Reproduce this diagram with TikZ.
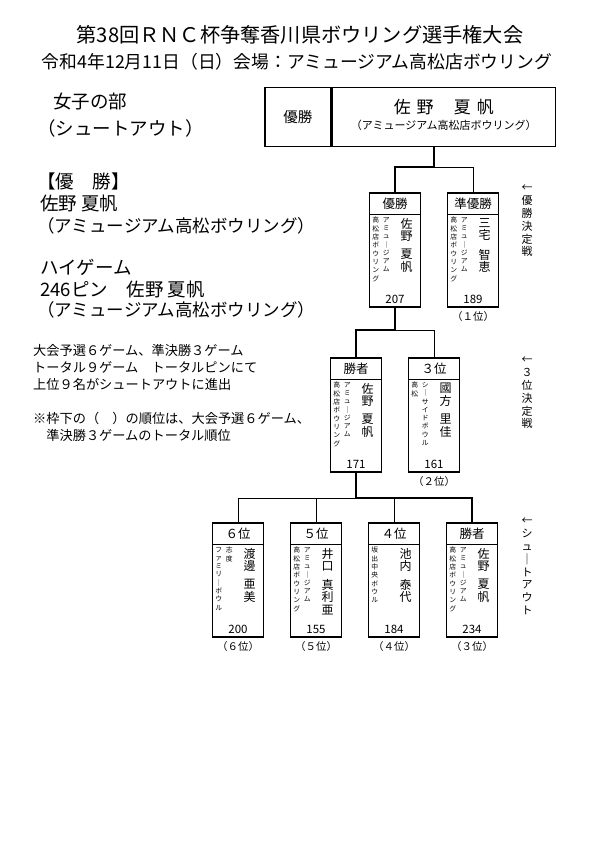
\documentclass[tikz,border=0pt]{standalone}
\usepackage{fontspec}
\setmainfont{Noto Sans CJK JP}
\usetikzlibrary{calc}
\tikzset{
 pbody/.style={draw, line width=1.7pt, minimum width=51pt, minimum height=114pt, inner sep=0pt},
 phead/.style={draw, line width=1.3pt, minimum width=51pt, minimum height=22pt, inner sep=0pt, font=\fontsize{12.5}{13}\selectfont},
 aff/.style={font=\fontsize{6.8}{8.3}\selectfont, align=center, inner sep=0pt, anchor=north},
 pname/.style={font=\fontsize{12}{12.5}\selectfont, align=center, inner sep=0pt, anchor=north},
 score/.style={font=\fontsize{11.5}{12}\selectfont, inner sep=0pt},
 rank/.style={font=\fontsize{10.5}{11}\selectfont, inner sep=0pt},
 cbox/.style={draw, line width=1.5pt, minimum height=59pt, inner sep=0pt, anchor=north west},
 thinln/.style={line width=0.7pt},
 thickln/.style={line width=2.3pt},
 big/.style={font=\fontsize{18.5}{20}\selectfont, inner sep=0pt, anchor=west},
 mid/.style={font=\fontsize{17.5}{20}\selectfont, inner sep=0pt, anchor=west},
 note/.style={font=\fontsize{13.2}{17}\selectfont, inner sep=0pt, anchor=north west, align=left},
 vlabel/.style={font=\fontsize{11}{12.8}\selectfont, inner sep=0pt, anchor=north, align=center},
}
\newcommand\playerbox[9]{%
 \node[pbody, anchor=north] (#1) at (#2) {};
 \node[phead, anchor=north] (#1h) at (#1.north) {#3};
 \node[aff] (#1a) at ($(#1.north west)+(7,25)$) {#4};
 \node[aff] (#1b) at ($(#1.north west)+(17.5,25)$) {#5};
 \node[pname] (#1n) at ($(#1.north west)+(38,26)$) {#6};
 \node[pname] (#1m) at ($(#1.north west)+(38,57)$) {#7};
 \node[score] (#1s) at ($(#1.south)+(0,-8)$) {#8};
 \node[rank] (#1r) at ($(#1.south)+(0,9)$) {#9};
}
\begin{document}
\begin{tikzpicture}[x=1pt,y={(0pt,-1pt)}]
\fill[white] (0,0) rectangle (595,842);
\useasboundingbox (0,0) rectangle (595,842);
% titles
\node[font=\fontsize{20.2}{22}\selectfont, inner sep=0pt] (title) at (300,35) {第38回ＲＮＣ杯争奪香川県ボウリング選手権大会};
\node[font=\fontsize{17.8}{20}\selectfont, inner sep=0pt] (subtitle) at (297,62) {令和4年12月11日（日）会場：アミュージアム高松店ボウリング};
% left text
\node[big] (t1) at (53,102) {女子の部};
\node[big] (t2) at (37,128) {（シュートアウト）};
\node[big] (t3) at (37,181) {【優　勝】};
\node[big] (t4) at (40,204) {佐野 夏帆};
\node[mid] (t5) at (37,226) {（アミュージアム高松ボウリング）};
\node[big] (t6) at (40,267) {ハイゲーム};
\node[big] (t7) at (40,290) {246ピン　佐野 夏帆};
\node[mid] (t8) at (37,310) {（アミュージアム高松ボウリング）};
\node[note] (n1) at (33,344) {大会予選６ゲーム、準決勝３ゲーム\\トータル９ゲーム　トータルピンにて\\上位９名がシュートアウトに進出};
\node[note] (n2) at (33,412) {※枠下の（　）の順位は、大会予選６ゲーム、\\　準決勝３ゲームのトータル順位};
% champion box
\node[cbox, minimum width=66pt, font=\fontsize{14.5}{16}\selectfont] (champL) at (264,87) {優勝};
\node[cbox, minimum width=223pt] (champR) at (champL.north east) {};
\node[font=\fontsize{17}{18}\selectfont, inner sep=0pt] (cname) at ($(champR.north)+(0,20)$) {佐\hspace{6pt}野\hspace{20pt}夏\hspace{6pt}帆};
\node[font=\fontsize{11}{12}\selectfont, inner sep=0pt] (caff) at ($(champR.north)+(0,38)$) {（アミュージアム高松店ボウリング）};
% finals
\playerbox{f1}{395,192}{優勝}{高\\松\\店\\ボ\\ウ\\リ\\ン\\グ}{ア\\ミ\\ュ\\｜\\ジ\\ア\\ム}{佐\\野}{夏\\帆}{207}{}
\playerbox{f2}{473,192}{準優勝}{高\\松\\店\\ボ\\ウ\\リ\\ン\\グ}{ア\\ミ\\ュ\\｜\\ジ\\ア\\ム}{三\\宅}{智\\恵}{189}{（１位）}
% semis
\playerbox{s1}{356,357}{勝者}{高\\松\\店\\ボ\\ウ\\リ\\ン\\グ}{ア\\ミ\\ュ\\｜\\ジ\\ア\\ム}{佐\\野}{夏\\帆}{171}{}
\playerbox{s2}{434,357}{３位}{高\\松}{シ\\｜\\サ\\イ\\ド\\ボ\\ウ\\ル}{國\\方}{里\\佳}{161}{（２位）}
% shootout
\playerbox{q1}{238,522}{６位}{フ\\ァ\\ミ\\リ\\｜\\ボ\\ウ\\ル}{志\\度}{渡\\邊}{亜\\美}{200}{（６位）}
\playerbox{q2}{316,522}{５位}{高\\松\\店\\ボ\\ウ\\リ\\ン\\グ}{ア\\ミ\\ュ\\｜\\ジ\\ア\\ム}{井\\口}{真\\利\\亜}{155}{（５位）}
\playerbox{q3}{394,522}{４位}{坂\\出\\中\\央\\ボ\\ウ\\ル}{}{池\\内}{泰\\代}{184}{（４位）}
\playerbox{q4}{472,522}{勝者}{高\\松\\店\\ボ\\ウ\\リ\\ン\\グ}{ア\\ミ\\ュ\\｜\\ジ\\ア\\ム}{佐\\野}{夏\\帆}{234}{（３位）}
% brackets
\coordinate (j1) at (434,167);
\coordinate (j2) at (395,330);
\coordinate (j3) at (356,498);
\draw[thinln] (j1) -- (j1 -| f2.north) -- (f2.north);
\draw[thickln] (champR.south -| j1) -- (j1) -- (j1 -| f1.north) -- (f1.north);
\draw[thinln] (j2) -- (j2 -| s2.north) -- (s2.north);
\draw[thickln] (f1.south) -- (j2) -- (j2 -| s1.north) -- (s1.north);
\draw[thinln] (j3) -- (j3 -| q1.north) -- (q1.north);
\draw[thinln] (j3 -| q2.north) -- (q2.north);
\draw[thinln] (j3 -| q3.north) -- (q3.north);
\draw[thickln] (s1.south) -- (j3) -- (j3 -| q4.north) -- (q4.north);
% right labels
\node[vlabel] (lab1) at (527,185) {←\\優\\勝\\決\\定\\戦};
\node[vlabel] (lab2) at (527,357) {←\\３\\位\\決\\定\\戦};
\node[vlabel] (lab3) at (527,518) {←\\シ\\ュ\\｜\\ト\\ア\\ウ\\ト};
\end{tikzpicture}
\end{document}
